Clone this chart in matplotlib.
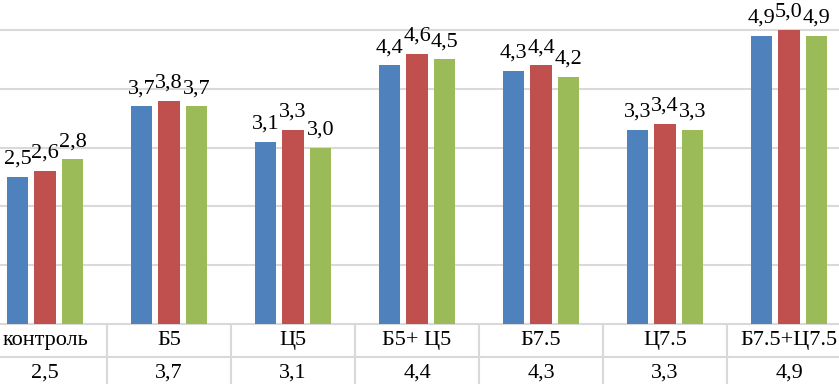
import matplotlib.pyplot as plt
import numpy as np

plt.rcParams['font.family'] = ['Liberation Serif', 'DejaVu Serif']

# categories and the three series (blue, red, green)
categories = ['контроль', 'Б5', 'Ц5', 'Б5+ Ц5', 'Б7.5', 'Ц7.5', 'Б7.5+Ц7.5']
series_1 = [2.5, 3.7, 3.1, 4.4, 4.3, 3.3, 4.9]
series_2 = [2.6, 3.8, 3.3, 4.6, 4.4, 3.4, 5.0]
series_3 = [2.8, 3.7, 3.0, 4.5, 4.2, 3.3, 4.9]
# the one data-table row still visible under the axis
table_values = [2.5, 3.7, 3.1, 4.4, 4.3, 3.3, 4.9]

colors = ['#4F81BD', '#C0504D', '#9BBB59']
grid_col = '#D9D9D9'


def fmt(v):
    return f'{v:.1f}'.replace('.', ',')


fig = plt.figure(figsize=(8.39, 3.84), dpi=100)
ax = fig.add_axes([0, 60 / 384, 1, 324 / 384])

x = np.arange(len(categories))
step = 0.222
width = 0.17
for i, (vals, c) in enumerate(zip([series_1, series_2, series_3], colors)):
    xs = x + (i - 1) * step
    ax.bar(xs, vals, width=width, color=c, zorder=3)
    for xi, v in zip(xs, vals):
        ax.annotate(fmt(v), (xi, v), xytext=(0, 9.5), textcoords='offset points',
                    ha='center', va='baseline', fontsize=16, color='#000000')

ax.set_xlim(-45 / 124, (839 - 45) / 124)
ax.set_ylim(0, 5.51)
ax.set_yticks([1, 2, 3, 4, 5])
ax.yaxis.grid(True, color=grid_col, linewidth=1.5, zorder=0)
ax.tick_params(left=False, bottom=False, labelleft=False, labelbottom=False)
for s in ['top', 'right', 'left']:
    ax.spines[s].set_visible(False)
ax.spines['bottom'].set_color(grid_col)
ax.spines['bottom'].set_linewidth(1.5)

# data table below the plot
tab = fig.add_axes([0, -6 / 384, 1, 66 / 384], sharex=ax)
tab.set_ylim(0, 2)
tab.axis('off')
tab.axhline(1, color=grid_col, linewidth=1.5)
for b in np.arange(-0.5, len(categories) + 0.5):
    tab.axvline(b, color=grid_col, linewidth=1.5)
for xi, name, v in zip(x, categories, table_values):
    tab.text(xi, 1.5, name, ha='center', va='center', fontsize=16)
    tab.text(xi, 0.5, fmt(v), ha='center', va='center', fontsize=16)

fig.savefig('out.png', dpi=100)
